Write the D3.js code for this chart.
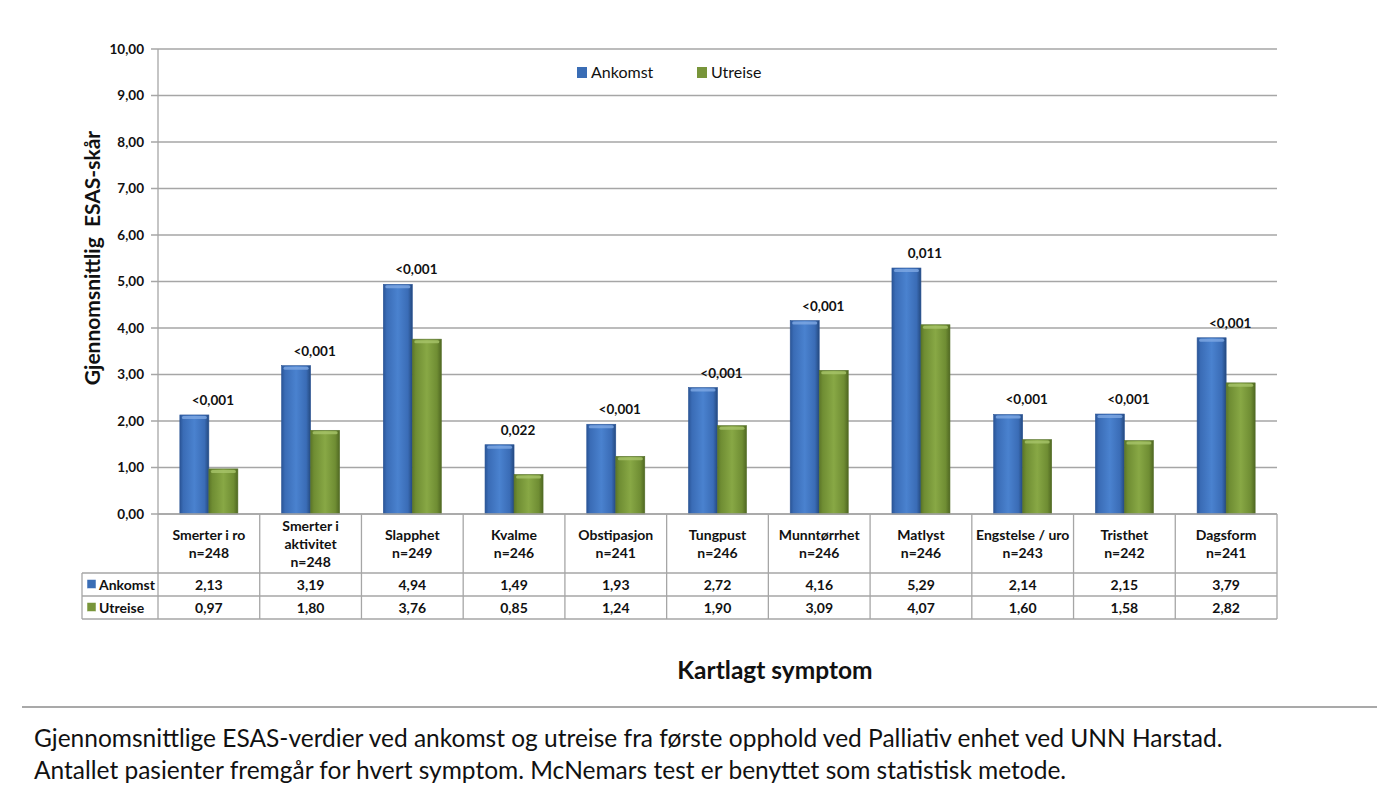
<!DOCTYPE html>
<html><head><meta charset="utf-8">
<script src="https://cdn.jsdelivr.net/npm/d3@7"></script>
<style>html,body{margin:0;padding:0;background:#fff;}svg{display:block;font-family:Lato,"Open Sans",sans-serif;}</style>
</head><body>
<svg id="c" width="1400" height="786"></svg>
<script>
const categories = ["Smerter i ro","Smerter i\naktivitet","Slapphet","Kvalme","Obstipasjon","Tungpust","Munntørrhet","Matlyst","Engstelse / uro","Tristhet","Dagsform"];
const nCounts = [248,248,249,246,241,246,246,246,243,242,241];
const ankomst = [2.13,3.19,4.94,1.49,1.93,2.72,4.16,5.29,2.14,2.15,3.79];
const utreise = [0.97,1.80,3.76,0.85,1.24,1.90,3.09,4.07,1.60,1.58,2.82];
const pValues = ["<0,001","<0,001","<0,001","0,022","<0,001","<0,001","<0,001","0,011","<0,001","<0,001","<0,001"];
const seriesNames = ["Ankomst","Utreise"];
const yTicks = [0,1,2,3,4,5,6,7,8,9,10];

const svg = d3.select("#c");
const fmt = v => v.toFixed(2).replace(".", ",");
const L = 158, R = 1277, T = 49, B = 514;
const x = d3.scaleBand().domain(d3.range(categories.length)).range([L, R]).padding(0);
const x1 = d3.scaleBand().domain(seriesNames).range([0, x.bandwidth()]).paddingInner(0).paddingOuter(0.753);
const y = d3.scaleLinear().domain([0, 10]).range([B, T]);

const defs = svg.append("defs");
function grad(id, stops){
  const g = defs.append("linearGradient").attr("id", id).attr("x1","0").attr("x2","1").attr("y1","0").attr("y2","0");
  stops.forEach(s => g.append("stop").attr("offset", s[0]).attr("stop-color", s[1]));
}
grad("gBlue", [[0,"#2a5597"],[0.12,"#3a6cb6"],[0.5,"#4a82cf"],[0.85,"#3a6cb6"],[1,"#24497f"]]);
grad("gGreen", [[0,"#5c7628"],[0.12,"#6f8d33"],[0.5,"#88a845"],[0.85,"#6f8d33"],[1,"#506822"]]);
const colors = {Ankomst:"url(#gBlue)", Utreise:"url(#gGreen)"};
const solid = {Ankomst:"#3a6db5", Utreise:"#78953a"};
const topHi = {Ankomst:"#7fa9e3", Utreise:"#a8c46a"};

// gridlines
svg.append("g").selectAll("line").data(yTicks).join("line")
  .attr("x1", L - 7).attr("x2", R).attr("y1", d => y(d)).attr("y2", d => y(d))
  .attr("stroke", "#a6a6a6").attr("stroke-width", 1.3);
svg.append("line").attr("x1", L).attr("x2", L).attr("y1", T).attr("y2", B).attr("stroke", "#a6a6a6").attr("stroke-width", 1.3);

// y axis labels
const yAxis = svg.append("g").attr("transform", `translate(${L - 8},0)`)
  .call(d3.axisLeft(y).tickValues(yTicks).tickFormat(fmt).tickSize(0).tickPadding(6));
yAxis.select(".domain").remove();
yAxis.selectAll("text").attr("font-family", "Lato, sans-serif").attr("font-weight", "bold").attr("font-size", 13.5).attr("fill", "#111");

// bars
const groups = svg.append("g").selectAll("g").data(categories).join("g")
  .attr("transform", (d, i) => `translate(${x(i)},0)`);
groups.each(function(c, i){
  const g = d3.select(this);
  const vals = [ankomst[i], utreise[i]];
  seriesNames.forEach((s, k) => {
    const bx = x1(s), bw = x1.bandwidth(), by = y(vals[k]), bh = B - y(vals[k]);
    g.append("rect").attr("x", bx).attr("y", by).attr("width", bw).attr("height", bh)
      .attr("fill", colors[s]).attr("stroke", k ? "#55702a" : "#2b5596").attr("stroke-width", 0.6);
    g.append("rect").attr("x", bx + 2).attr("y", by + 1).attr("width", bw - 4).attr("height", 3)
      .attr("fill", topHi[s]).attr("opacity", 0.8).attr("rx", 1.5);
  });
  g.append("text").attr("x", x.bandwidth() / 2 + 4).attr("y", y(ankomst[i]) - 10)
    .attr("text-anchor", "middle").attr("font-weight", "bold").attr("font-size", 13.5).attr("fill", "#111")
    .text(pValues[i]);
});

// table
const tb = svg.append("g");
const tableStroke = "#a6a6a6";
tb.append("line").attr("x1", L).attr("x2", R).attr("y1", B).attr("y2", B).attr("stroke", tableStroke).attr("stroke-width", 1.3);
[573, 596, 619].forEach(yy => tb.append("line").attr("x1", 82).attr("x2", R).attr("y1", yy).attr("y2", yy).attr("stroke", tableStroke).attr("stroke-width", 1.3));
d3.range(categories.length + 1).forEach(i => {
  const xx = i < categories.length ? x(i) : R;
  tb.append("line").attr("x1", xx).attr("x2", xx).attr("y1", B).attr("y2", 619).attr("stroke", tableStroke).attr("stroke-width", 1.3);
});
tb.append("line").attr("x1", 82).attr("x2", 82).attr("y1", 573).attr("y2", 619).attr("stroke", tableStroke).attr("stroke-width", 1.3);

const fsT = 14;
categories.forEach((c, i) => {
  const lines = c.split("\n").concat(["n=" + nCounts[i]]);
  const cx = x(i) + x.bandwidth() / 2;
  const mid = 543.5, lh = 18;
  const t = tb.append("text").attr("text-anchor", "middle").attr("font-weight", "bold").attr("font-size", fsT).attr("fill", "#111");
  lines.forEach((ln, j) => {
    t.append("tspan").attr("x", cx).attr("y", mid + (j - (lines.length - 1) / 2) * lh + 5).text(ln);
  });
  tb.append("text").attr("x", cx).attr("y", 589.5).attr("text-anchor", "middle").attr("font-weight", "bold").attr("font-size", fsT).attr("fill", "#111").text(fmt(ankomst[i]));
  tb.append("text").attr("x", cx).attr("y", 612.5).attr("text-anchor", "middle").attr("font-weight", "bold").attr("font-size", fsT).attr("fill", "#111").text(fmt(utreise[i]));
});
seriesNames.forEach((s, k) => {
  const yy = 584.5 + k * 23;
  tb.append("rect").attr("x", 87).attr("y", yy - 5).attr("width", 9).attr("height", 9).attr("fill", solid[s]).attr("stroke", "#fff").attr("stroke-width", 0.5);
  tb.append("text").attr("x", 99).attr("y", yy + 5).attr("font-weight", "bold").attr("font-size", fsT).attr("fill", "#111").text(s);
});

// legend
const lg = svg.append("g");
[[577, 591], [697, 711]].forEach((p, k) => {
  lg.append("rect").attr("x", p[0]).attr("y", 67).attr("width", 10).attr("height", 11).attr("fill", solid[seriesNames[k]]);
  lg.append("text").attr("x", p[1]).attr("y", 78).attr("font-size", 16).attr("fill", "#111").text(seriesNames[k]);
});

// axis titles
svg.append("text").attr("transform", "translate(100,258) rotate(-90)").attr("text-anchor", "middle")
  .attr("font-weight", "bold").attr("font-size", 21).attr("fill", "#111").attr("xml:space", "preserve").text("Gjennomsnittlig  ESAS-skår");
svg.append("text").attr("x", 775).attr("y", 679).attr("text-anchor", "middle")
  .attr("font-weight", "bold").attr("font-size", 24.5).attr("fill", "#111").text("Kartlagt symptom");

// separator and caption
svg.append("line").attr("x1", 22).attr("x2", 1377).attr("y1", 707).attr("y2", 707).attr("stroke", "#8c8c8c").attr("stroke-width", 1.5);
svg.append("text").attr("x", 34).attr("y", 747).attr("font-size", 24.5).attr("fill", "#111")
  .text("Gjennomsnittlige ESAS-verdier ved ankomst og utreise fra første opphold ved Palliativ enhet ved UNN Harstad.");
svg.append("text").attr("x", 34).attr("y", 779).attr("font-size", 24.5).attr("fill", "#111")
  .text("Antallet pasienter fremgår for hvert symptom. McNemars test er benyttet som statistisk metode.");
</script>
</body></html>
